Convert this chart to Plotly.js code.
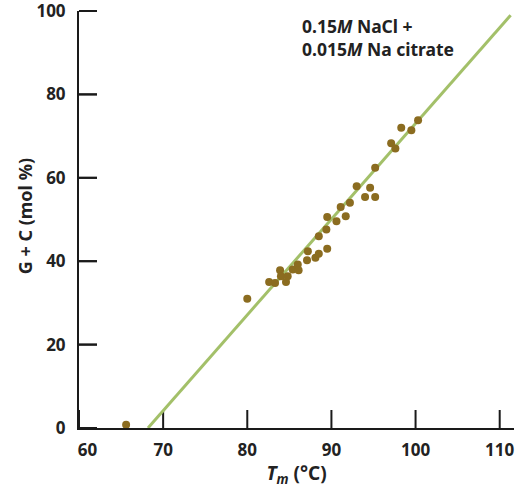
<!DOCTYPE html>
<html>
<head>
<meta charset="utf-8">
<script src="https://cdn.plot.ly/plotly-3.0.1.min.js"></script>
<style>html,body{margin:0;padding:0;background:#fff;}</style>
</head>
<body>
<div id="chart" style="width:522px;height:488px;"></div>
<script>
// Melting temperature Tm (°C) vs G+C content (mol %)
const tmValues = [80.0, 82.6, 83.3, 83.9, 84.0, 84.6, 84.8, 85.4, 86.0, 86.1,
                  87.1, 87.2, 88.1, 88.5, 89.5, 88.5, 89.4, 89.5, 90.6, 91.1,
                  91.7, 92.2, 93.0, 94.0, 94.6, 95.2, 95.2, 97.1, 97.6, 98.3,
                  99.5, 100.3, 65.6];
const gcValues = [31.0, 35.0, 34.8, 37.8, 36.4, 35.0, 36.4, 38.0, 39.2, 37.8,
                  40.2, 42.4, 40.8, 41.8, 43.0, 46.0, 47.6, 50.6, 49.6, 53.0,
                  50.8, 54.0, 58.0, 55.4, 57.6, 55.4, 62.4, 68.3, 67.0, 72.0,
                  71.4, 73.8, 0.8];
// fitted line end points
const fitTm = [68.2, 111.3];
const fitGC = [0, 99];
const xTicks = [60, 70, 80, 90, 100, 110];
const xTickText = ['\u2002\u200260', '70', '80', '90', '100', '110'];
const yTicks = [0, 20, 40, 60, 80, 100];
const yTickText = ['0', '20', '40', '60', '80', '100'];
const noteText = '0.15<i>M</i> NaCl +<br>0.015<i>M</i> Na citrate';
const yTitleText = 'G + C (mol %)';

const fontFam = '"Noto Sans", "DejaVu Sans", sans-serif';
const ink = '#1a1a1a';
const textInk = '#222';

const W = 522, H = 488;
const margin = {l: 79, r: 8, t: 11, b: 60};
const xRange = [60, 111.7];
const yRange = [0, 100];
const tickLenPx = 18;

// inward tick marks built from the tick arrays (length converted from pixels to axis units)
const xTickLen = tickLenPx * (yRange[1] - yRange[0]) / (H - margin.t - margin.b);
const yTickLen = tickLenPx * (xRange[1] - xRange[0]) / (W - margin.l - margin.r);
const tickX = [], tickY = [];
xTicks.forEach(v => { tickX.push(v, v, null); tickY.push(yRange[0], yRange[0] + xTickLen, null); });
yTicks.forEach(v => { tickX.push(xRange[0], xRange[0] + yTickLen, null); tickY.push(v, v, null); });

const traces = [
  {x: tickX, y: tickY, mode: 'lines', type: 'scatter', connectgaps: false,
   line: {color: ink, width: 2}, hoverinfo: 'skip', cliponaxis: false},
  // y-axis inward ticks as horizontal line markers (markers are never clipped)
  {x: yTicks.map(() => xRange[0] + yTickLen / 2), y: yTicks, mode: 'markers', type: 'scatter',
   marker: {symbol: 'line-ew', size: tickLenPx / 1.4, color: ink, line: {color: ink, width: 2}},
   hoverinfo: 'skip', cliponaxis: false},
  {x: fitTm, y: fitGC, mode: 'lines', type: 'scatter',
   line: {color: 'rgb(163,192,105)', width: 3}, hoverinfo: 'skip', cliponaxis: false},
  {x: tmValues, y: gcValues, mode: 'markers', type: 'scatter',
   marker: {color: 'rgb(139,108,32)', size: 8}, cliponaxis: false}
];

const axisCommon = {
  showgrid: false, zeroline: false, showline: true,
  linecolor: ink, linewidth: 2, tickmode: 'array',
  ticks: 'inside', ticklen: tickLenPx, tickwidth: 2, tickcolor: 'rgba(0,0,0,0)',
  tickfont: {family: fontFam, size: 17, color: textInk, weight: 700},
  ticklabeloverflow: 'allow', fixedrange: true
};

const layout = {
  width: W, height: H, margin: margin,
  paper_bgcolor: '#fff', plot_bgcolor: 'rgba(0,0,0,0)', showlegend: false,
  xaxis: Object.assign({}, axisCommon, {
    range: xRange, tickvals: xTicks, ticktext: xTickText, ticklabelstandoff: 6,
    title: {text: '<i>T</i><sub><i>m</i></sub> (°C)', standoff: 18,
            font: {family: fontFam, size: 19, color: textInk, weight: 700}}
  }),
  yaxis: Object.assign({}, axisCommon, {
    range: yRange, tickvals: yTicks, ticktext: yTickText, ticklabelstandoff: 8
  }),
  annotations: [
    {xref: 'paper', yref: 'paper', x: 0.507, y: 0.936,
     xanchor: 'left', yanchor: 'middle', align: 'left', showarrow: false,
     text: noteText, font: {family: fontFam, size: 17.5, color: textInk, weight: 700}},
    {xref: 'paper', yref: 'paper', x: -0.125, y: 0.507,
     xanchor: 'center', yanchor: 'middle', textangle: -90, showarrow: false,
     text: yTitleText, font: {family: fontFam, size: 18, color: textInk, weight: 700}}
  ]
};

Plotly.newPlot('chart', traces, layout, {displayModeBar: false, staticPlot: true});
</script>
</body>
</html>
